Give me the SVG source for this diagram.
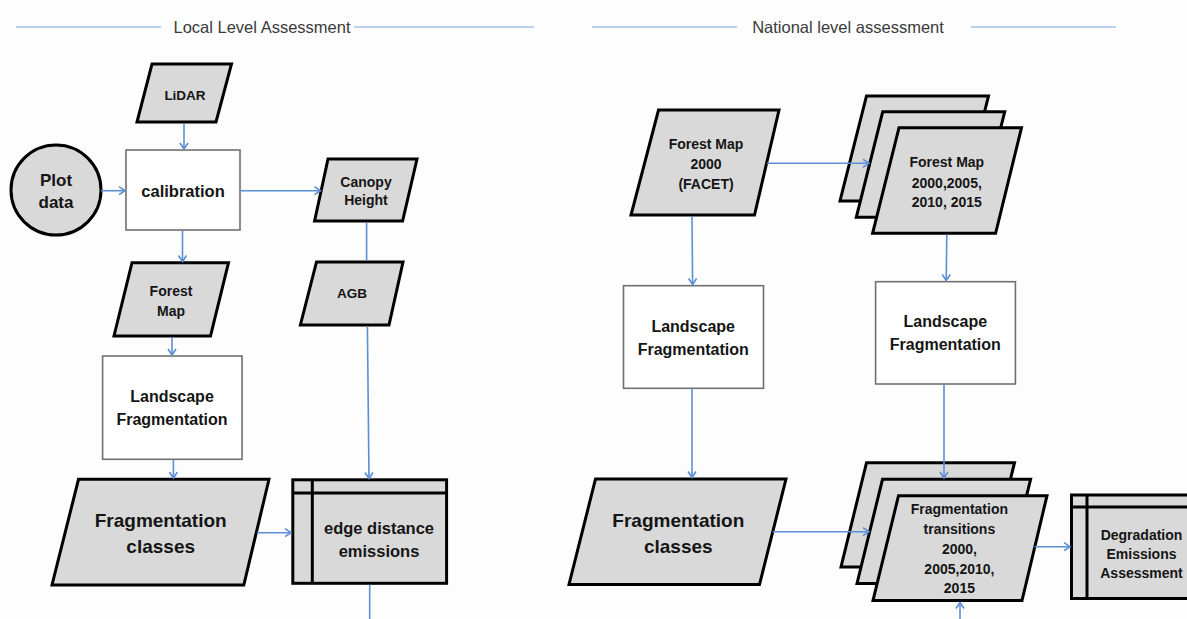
<svg xmlns="http://www.w3.org/2000/svg" width="1187" height="619" viewBox="0 0 1187 619">
<defs>
<marker id="arr" markerUnits="userSpaceOnUse" markerWidth="12" markerHeight="12" refX="7" refY="5" orient="auto">
<path d="M1,1 L7,5 L1,9" fill="none" stroke="#5b8fd3" stroke-width="1.6"/>
</marker>
</defs>
<style>
.data{fill:#d9d9d9;stroke:#000;stroke-width:3;stroke-linejoin:miter}
.proc{fill:#fff;stroke:#707070;stroke-width:1.6}
.ln{fill:none;stroke:#000;stroke-width:3}
.c{fill:none;stroke:#5b8fd3;stroke-width:1.6}
.a{marker-end:url(#arr)}
.hd{stroke:#7aa3d8;stroke-width:1.2}
text{font-family:"Liberation Sans",Arial,sans-serif;font-weight:bold;fill:#151515;text-anchor:middle}
.tt{font-weight:normal;fill:#3a3a3a;font-size:16.5px}
</style>
<rect width="1187" height="619" fill="#fdfdfd"/>
<g id="headers">
<line class="hd" x1="16" y1="27" x2="161" y2="27"/>
<line class="hd" x1="354" y1="27" x2="534" y2="27"/>
<text class="tt" x="262" y="32.5">Local Level Assessment</text>
<line class="hd" x1="592" y1="27" x2="737" y2="27"/>
<line class="hd" x1="971" y1="27" x2="1116" y2="27"/>
<text class="tt" x="848" y="32.5">National level assessment</text>
</g>
<g id="lidar">
<polygon class="data" points="152,64 231.5,64 216,122 137,122"/>
<text x="185" y="99.8" font-size="13.5">LiDAR</text>
</g>
<g id="plot-data">
<circle class="data" cx="56" cy="190" r="45"/>
<text x="56" y="186" font-size="17">Plot</text>
<text x="56" y="208" font-size="17">data</text>
</g>
<g id="calibration">
<rect class="proc" x="126" y="150" width="114" height="80"/>
<text x="183" y="196.8" font-size="16.5">calibration</text>
</g>
<g id="canopy-height">
<polygon class="data" points="328,159 417,159 402.6,221 314.6,221"/>
<text x="366" y="186.6" font-size="14">Canopy</text>
<text x="366" y="205" font-size="14">Height</text>
</g>
<g id="forest-map">
<polygon class="data" points="132,262.7 228.5,262.7 210.5,336 114,336"/>
<text x="171" y="295.6" font-size="14">Forest</text>
<text x="171" y="315.6" font-size="14">Map</text>
</g>
<g id="agb">
<polygon class="data" points="316.5,262 403,262 389,325 300.4,325"/>
<text x="352" y="298.2" font-size="13.5">AGB</text>
</g>
<g id="landscape-local">
<rect class="proc" x="102.6" y="356" width="139.4" height="103.3"/>
<text x="172" y="402.3" font-size="16">Landscape</text>
<text x="172" y="424.9" font-size="16">Fragmentation</text>
</g>
<g id="frag-classes-local">
<polygon class="data" points="78.5,479.3 269,479.3 243.8,585 52,585"/>
<text x="160.7" y="527.4" font-size="19">Fragmentation</text>
<text x="160.7" y="553.4" font-size="19">classes</text>
</g>
<g id="edge-distance">
<rect class="data" x="292.8" y="479.8" width="153.8" height="103.5"/>
<line class="ln" x1="292.8" y1="493" x2="446.6" y2="493"/>
<line class="ln" x1="312.3" y1="479.8" x2="312.3" y2="583.3"/>
<text x="379" y="534.1" font-size="16.5">edge distance</text>
<text x="379" y="556.5" font-size="16.5">emissions</text>
</g>
<g id="forest-map-2000">
<polygon class="data" points="658.5,110 779,110 754.5,215 631,215"/>
<text x="706" y="148.9" font-size="14">Forest Map</text>
<text x="706" y="168.9" font-size="14">2000</text>
<text x="706" y="189.2" font-size="14">(FACET)</text>
</g>
<g id="forest-maps-stack">
<polygon class="data" points="866.5,96 988.5,96 962,201 840,201"/>
<polygon class="data" points="882.7,111.8 1004.7,111.8 978.3,217.3 856.3,217.3"/>
<polygon class="data" points="899,127.7 1021.5,127.7 995.6,233.3 872.6,233.3"/>
<text x="946.8" y="167.2" font-size="14">Forest Map</text>
<text x="946.8" y="187.6" font-size="14">2000,2005,</text>
<text x="946.8" y="206.6" font-size="14">2010, 2015</text>
</g>
<g id="landscape-national-1">
<rect class="proc" x="623.5" y="285.7" width="140" height="102.6"/>
<text x="693.2" y="332.3" font-size="16">Landscape</text>
<text x="693.2" y="354.6" font-size="16">Fragmentation</text>
</g>
<g id="landscape-national-2">
<rect class="proc" x="875.6" y="281.7" width="139.8" height="102.3"/>
<text x="945.3" y="327.3" font-size="16">Landscape</text>
<text x="945.3" y="349.9" font-size="16">Fragmentation</text>
</g>
<g id="frag-classes-national">
<polygon class="data" points="595.5,479 786,479 759.5,584.5 569,584.5"/>
<text x="678.3" y="526.7" font-size="19">Fragmentation</text>
<text x="678.3" y="552.7" font-size="19">classes</text>
</g>
<g id="frag-transitions-stack">
<polygon class="data" points="866.5,462.7 1014.5,462.7 989,567 841,567"/>
<polygon class="data" points="882.5,479.3 1030.6,479.3 1005,583.5 857,583.5"/>
<polygon class="data" points="898.5,495.7 1047,495.7 1022,600.5 873,600.5"/>
<text x="959.4" y="514.2" font-size="14">Fragmentation</text>
<text x="959.4" y="534.2" font-size="14">transitions</text>
<text x="959.4" y="554.2" font-size="14">2000,</text>
<text x="959.4" y="574.2" font-size="14">2005,2010,</text>
<text x="959.4" y="593.2" font-size="14">2015</text>
</g>
<g id="degradation">
<rect class="data" x="1071.5" y="495" width="120" height="103.5"/>
<line class="ln" x1="1071.5" y1="507" x2="1190" y2="507"/>
<line class="ln" x1="1087" y1="495" x2="1087" y2="598.5"/>
<text x="1141.5" y="540" font-size="14">Degradation</text>
<text x="1141.5" y="559" font-size="14">Emissions</text>
<text x="1141.5" y="578.3" font-size="14">Assessment</text>
</g>
<g id="connectors">
<line class="c a" x1="184" y1="123.5" x2="184" y2="149"/>
<line class="c a" x1="101" y1="190.7" x2="125" y2="190.7"/>
<line class="c a" x1="240" y1="190.7" x2="320.5" y2="190.7"/>
<line class="c" x1="366.6" y1="222.5" x2="366.6" y2="260.5"/>
<line class="c a" x1="182.5" y1="230" x2="182.5" y2="261.5"/>
<line class="c a" x1="367.4" y1="326.5" x2="369" y2="478.5"/>
<line class="c a" x1="172" y1="337.5" x2="172" y2="355"/>
<line class="c a" x1="173.4" y1="459.3" x2="173.4" y2="478"/>
<line class="c a" x1="257" y1="532.7" x2="291" y2="532.7"/>
<line class="c" x1="369.7" y1="584.8" x2="369.7" y2="619"/>
<line class="c a" x1="767" y1="163.3" x2="869" y2="163.3"/>
<line class="c a" x1="692" y1="216.5" x2="692.6" y2="284.5"/>
<line class="c a" x1="946.8" y1="234.8" x2="946.2" y2="280.5"/>
<line class="c a" x1="692" y1="388.3" x2="692" y2="477.5"/>
<line class="c a" x1="944" y1="384" x2="944" y2="478"/>
<line class="c a" x1="772.8" y1="531.7" x2="869" y2="531.7"/>
<line class="c a" x1="1034.5" y1="546.7" x2="1070" y2="546.7"/>
<line class="c a" x1="960" y1="619" x2="960" y2="602.5"/>
</g>
</svg>
